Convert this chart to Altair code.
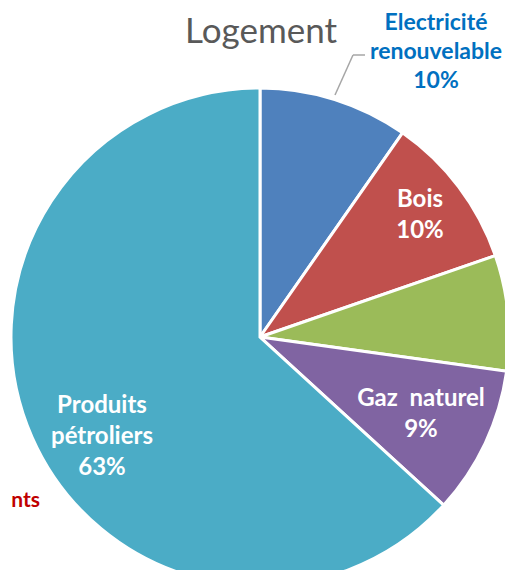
import altair as alt
import pandas as pd

# ---- data ----
categories = ["Electricité renouvelable", "Bois", "Autres", "Gaz naturel", "Produits pétroliers"]
shares = [9.7, 10.0, 7.5, 9.6, 63.2]
pct_labels = ["10%", "10%", "", "9%", "63%"]
name_lines = [["Electricité", "renouvelable"], ["Bois"], [], ["Gaz\u00a0 naturel"], ["Produits", "pétroliers"]]
title_text = "Logement"
cut_label = "nts"

slice_colors = ["#4F81BD", "#C0504D", "#9BBB59", "#8064A2", "#4BACC6"]

df = pd.DataFrame({"categorie": categories, "part": shares, "ordre": list(range(len(categories)))})
one = pd.DataFrame({"k": [0]})

W, H = 497, 562
OFF = 8  # page margin
CX, CY, R = 260 - OFF, 337 - OFF, 249
FONT = "Lato"

pie = alt.Chart(df).mark_arc(outerRadius=R, stroke="white", strokeWidth=3).encode(
    theta=alt.Theta("part:Q", stack=True),
    order=alt.Order("ordre:Q"),
    color=alt.Color("categorie:N", scale=alt.Scale(domain=categories, range=slice_colors), legend=None),
    x=alt.value(CX),
    y=alt.value(CY),
)


def text_layer(lines, x, y, color, size=24, bold=True, align="center", lh=31):
    return alt.Chart(one).mark_text(
        text=lines,
        font=FONT,
        fontSize=size,
        fontWeight="bold" if bold else "normal",
        color=color,
        align=align,
        baseline="alphabetic",
        lineHeight=lh,
    ).encode(x=alt.value(x - OFF), y=alt.value(y - OFF))


layers = [pie]
layers.append(text_layer(title_text, 261, 43, "#595959", size=35, bold=False))
# Electricité renouvelable (outside label, blue)
layers.append(text_layer(name_lines[0] + [pct_labels[0]], 436, 30, "#0070C0", size=23, lh=29))
# Bois
layers.append(text_layer(name_lines[1] + [pct_labels[1]], 420, 207, "white"))
# Gaz naturel
layers.append(text_layer(name_lines[3] + [pct_labels[3]], 421, 406, "white"))
# Produits pétroliers
layers.append(text_layer(name_lines[4] + [pct_labels[4]], 102, 413, "white"))
# label partly outside the reference crop, at left
layers.append(text_layer(cut_label, 40, 507, "#C00000", size=21, align="right"))

# leader line
leader = alt.Chart(one).mark_rule(color="#A6A6A6", strokeWidth=1.5)
layers.append(leader.encode(x=alt.value(335 - OFF), y=alt.value(95 - OFF), x2=alt.value(353 - OFF), y2=alt.value(55 - OFF)))
layers.append(leader.encode(x=alt.value(353 - OFF), y=alt.value(55 - OFF), x2=alt.value(365 - OFF), y2=alt.value(55 - OFF)))

chart = alt.layer(*layers).properties(
    width=W, height=H, padding=0, autosize="none"
).configure_view(stroke=None)

chart.save("out.html", embed_options={"renderer": "svg", "actions": False})
